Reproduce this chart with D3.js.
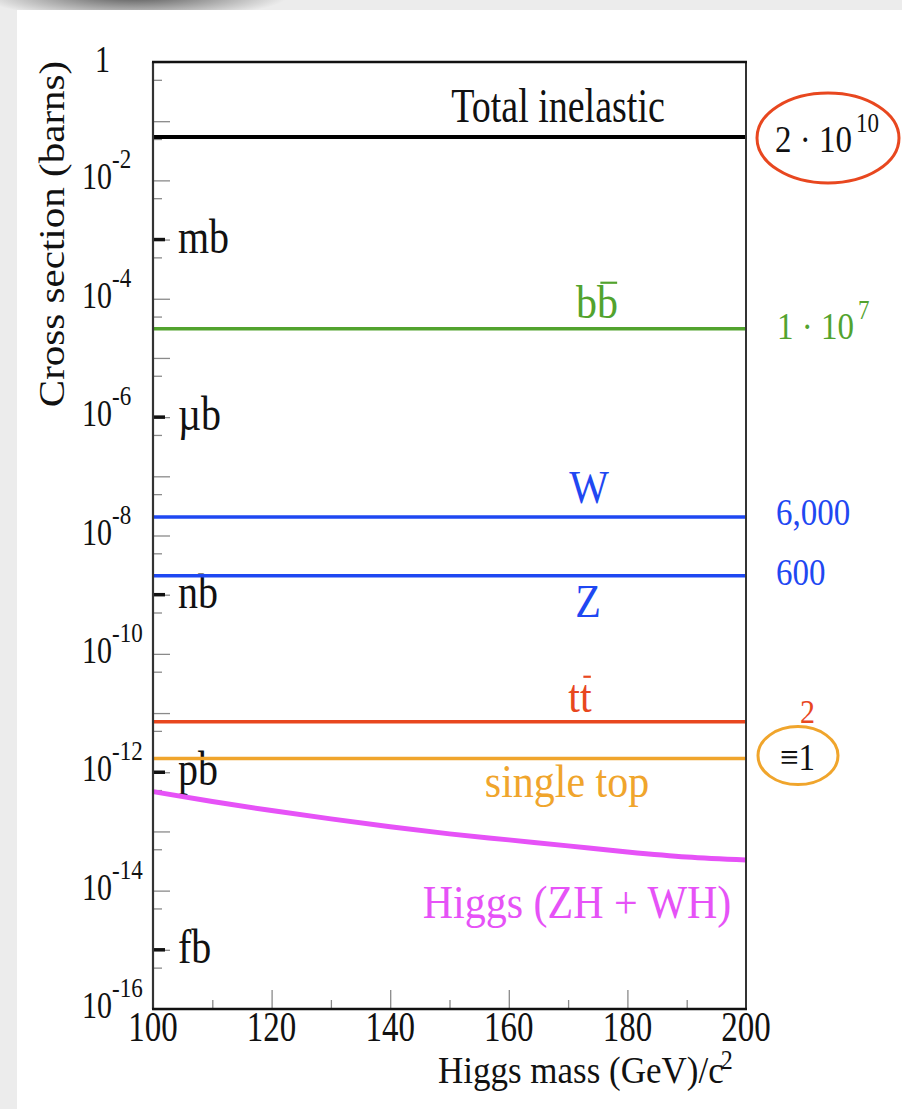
<!DOCTYPE html>
<meta charset="utf-8">
<style>
body { margin: 0; background: #ececec; }
text { font-family: "Liberation Serif", "Times New Roman", Tinos, "DejaVu Serif", serif; }
</style>
<svg id="thevis" width="902" height="1109"></svg>
<script src="https://d3js.org/d3.v7.min.js"></script>
<script>

// values
var processes = ["Total inelastic", "bb", "W", "Z", "tt", "single top"];
var sigma = [5.4e-2, 3.1e-5, 2.06e-8, 2.08e-9, 7.1e-12, 1.7e-12];
var procColors = ["#000000", "#52a32e", "#1f48f2", "#1f48f2", "#e8471f", "#f0a52c"];
var rates = ["2 · 10", "1 · 10", "6,000", "600", "2", "≡1"];
var rateExp = ["10", "7", "", "", "", ""];
var rateColors = ["#111111", "#52a32e", "#1f48f2", "#1f48f2", "#e8471f", "#111111"];

var higgsMass = [100, 110, 120, 130, 140, 150, 160, 170, 180, 190, 200];
var higgsSigma = [4.7e-13, 3.2e-13, 2.25e-13, 1.63e-13, 1.2e-13, 9.1e-14,
                  7.2e-14, 5.7e-14, 4.5e-14, 3.7e-14, 3.3e-14];
var higgsLabel = "Higgs (ZH + WH)";
var higgsColor = "#e652f7";

var yLabelExp = [0, -2, -4, -6, -8, -10, -12, -14, -16];
var units = ["mb", "\u00b5b", "nb", "pb", "fb"];
var unitExp = [-3, -6, -9, -12, -15];
var xMajor = [100, 120, 140, 160, 180, 200];
var xMinor = [110, 130, 150, 170, 190];

var serif = "'Liberation Serif', 'Times New Roman', Tinos, 'DejaVu Serif', serif";

// layout
var svg = d3.select("svg");
var frame = {left: 153, right: 746, top: 62, bottom: 1009};

var x = d3.scaleLinear().domain([100, 200]).range([frame.left, frame.right]);
var y = d3.scaleLog().domain([1e-16, 1]).range([frame.bottom, frame.top]);

// text helper: the picture's type is stretched a bit vertically
function label(parent, px, py, str, size, stretch, anchor, fill) {
    var g = parent.append("g")
        .attr("transform", "translate(" + px + "," + py + ") scale(1," + stretch + ")");
    var t = g.append("text")
        .attr("font-family", serif)
        .attr("font-size", size)
        .attr("text-anchor", anchor || "start")
        .attr("fill", fill || "#111")
        .text(str);
    return {g: g, t: t};
}
function sup(t, str, size, dy, dx) {
    t.append("tspan").attr("font-size", size).attr("dy", dy).attr("dx", dx || 0).text(str);
}
// bar over the second letter (bb, tt)
function overbar(lab, size, color) {
    var node = lab.t.node();
    var x0 = node.getStartPositionOfChar(1).x, x1 = node.getEndPositionOfChar(1).x;
    lab.g.append("line")
        .attr("x1", x0 + size * 0.08).attr("x2", x1 - size * 0.02)
        .attr("y1", -size * 0.76).attr("y2", -size * 0.76)
        .attr("stroke", color).attr("stroke-width", 2);
}

// page background: grey with a white sheet and a soft shadow at the top
var defs = svg.append("defs");
var grad = defs.append("radialGradient").attr("id", "shade");
grad.append("stop").attr("offset", "0%").attr("stop-color", "#3a3a3a").attr("stop-opacity", 0.9);
grad.append("stop").attr("offset", "100%").attr("stop-color", "#3a3a3a").attr("stop-opacity", 0);

svg.append("rect").attr("width", 902).attr("height", 1109).attr("fill", "#ececec");
svg.append("ellipse").attr("cx", 135).attr("cy", -6).attr("rx", 155).attr("ry", 26)
    .attr("fill", "url(#shade)");
svg.append("rect").attr("x", 17).attr("y", 10).attr("width", 885).attr("height", 1099)
    .attr("fill", "#ffffff");

var plot = svg.append("g");

// y ticks (decades long, 5x ticks short), pointing inward
var decades = d3.range(0, -17, -1).map(function (e) { return Math.pow(10, e); });
var halves = d3.range(-1, -17, -1).map(function (e) { return 5 * Math.pow(10, e); });

plot.append("g").attr("transform", "translate(" + frame.left + ",0)")
    .call(d3.axisRight(y).tickValues(decades).tickSize(17).tickFormat(""))
    .call(function (g) { g.select(".domain").remove(); })
    .selectAll("line").attr("stroke", "#8a8a8a").attr("stroke-width", 1.3);
plot.append("g").attr("transform", "translate(" + frame.left + ",0)")
    .call(d3.axisRight(y).tickValues(halves).tickSize(9).tickFormat(""))
    .call(function (g) { g.select(".domain").remove(); })
    .selectAll("line").attr("stroke", "#8a8a8a").attr("stroke-width", 1.3);

// x ticks, pointing up
plot.append("g").attr("transform", "translate(0," + frame.bottom + ")")
    .call(d3.axisBottom(x).tickValues(xMajor.slice(1, -1)).tickSize(-19).tickFormat(""))
    .call(function (g) { g.select(".domain").remove(); })
    .selectAll("line").attr("stroke", "#8a8a8a").attr("stroke-width", 1.3);
plot.append("g").attr("transform", "translate(0," + frame.bottom + ")")
    .call(d3.axisBottom(x).tickValues(xMinor).tickSize(-9).tickFormat(""))
    .call(function (g) { g.select(".domain").remove(); })
    .selectAll("line").attr("stroke", "#8a8a8a").attr("stroke-width", 1.3);

// unit marks on the left axis
plot.selectAll(".unitMark").data(unitExp).enter().append("line")
    .attr("x1", frame.left).attr("x2", frame.left + 12)
    .attr("y1", function (d) { return y(Math.pow(10, d)); })
    .attr("y2", function (d) { return y(Math.pow(10, d)); })
    .attr("stroke", "#111").attr("stroke-width", 3.5);

units.forEach(function (u, i) {
    label(plot, frame.left + 25, y(Math.pow(10, unitExp[i])) + 13, u, 40, 1.2);
});

// process lines
plot.selectAll(".proc").data(sigma).enter().append("line")
    .attr("x1", frame.left).attr("x2", frame.right)
    .attr("y1", function (d) { return y(d); })
    .attr("y2", function (d) { return y(d); })
    .attr("stroke", function (d, i) { return procColors[i]; })
    .attr("stroke-width", function (d, i) { return i === 0 ? 4 : 3.5; });

// Higgs curve
var line = d3.line()
    .x(function (d, i) { return x(higgsMass[i]); })
    .y(function (d) { return y(d); })
    .curve(d3.curveMonotoneX);
plot.append("path").datum(higgsSigma)
    .attr("d", line).attr("fill", "none")
    .attr("stroke", higgsColor).attr("stroke-width", 5);

// frame
plot.append("line").attr("x1", frame.left).attr("x2", frame.left)
    .attr("y1", frame.top).attr("y2", frame.bottom).attr("stroke", "#333").attr("stroke-width", 2.2);
plot.append("line").attr("x1", frame.right).attr("x2", frame.right)
    .attr("y1", frame.top).attr("y2", frame.bottom).attr("stroke", "#333").attr("stroke-width", 2);
plot.append("line").attr("x1", frame.left - 1).attr("x2", frame.right + 1)
    .attr("y1", frame.top).attr("y2", frame.top).attr("stroke", "#111").attr("stroke-width", 2.5);
plot.append("line").attr("x1", frame.left - 1).attr("x2", frame.right + 1)
    .attr("y1", frame.bottom).attr("y2", frame.bottom).attr("stroke", "#111").attr("stroke-width", 2.5);

// process labels inside the plot: [x centre, offset from line, size, stretch]
var procLabel = [[558, -15, 38, 1.27], [597, -11, 42, 1.1], [589, -14, 42, 1.1],
                 [588, 41, 42, 1.1], [580, -10, 42, 1.1], [567, 38, 42, 1.1]];
processes.forEach(function (p, i) {
    var L = procLabel[i];
    var lab = label(plot, L[0], y(sigma[i]) + L[1], p, L[2], L[3], "middle",
                    i === 0 ? "#111" : procColors[i]);
    if (p === "bb" || p === "tt") overbar(lab, L[2], procColors[i]);
});
label(plot, 577, 918, higgsLabel, 42, 1.08, "middle", higgsColor);

// rates relative to single top, right of the frame
var rateOffset = [15, 10, 8, 9, 1, 11];
var rateX = [775, 777, 776, 776, 800, 780];
rates.forEach(function (r, i) {
    var lab = label(plot, rateX[i], y(sigma[i]) + rateOffset[i], r, i === 4 ? 30 : 33, 1.15,
                    "start", rateColors[i]);
    if (rateExp[i]) sup(lab.t, rateExp[i], 23, -17, 4);
});
plot.append("ellipse").attr("cx", 828).attr("cy", y(sigma[0]) + 1).attr("rx", 71).attr("ry", 45)
    .attr("fill", "none").attr("stroke", "#e8471f").attr("stroke-width", 3);
plot.append("ellipse").attr("cx", 798).attr("cy", y(sigma[5]) - 3).attr("rx", 40).attr("ry", 29)
    .attr("fill", "none").attr("stroke", "#f0a52c").attr("stroke-width", 3);

// y tick labels
yLabelExp.forEach(function (e) {
    if (e === 0) {
        label(plot, 95, y(1) + 10, "1", 30, 1.23);
    } else {
        var lab = label(plot, 82, y(Math.pow(10, e)) + 9, "10", 30, 1.23);
        sup(lab.t, String(e), 23, -17, 0);
    }
});

// x tick labels
xMajor.forEach(function (m) {
    label(plot, x(m), 1041, String(m), 33, 1.26, "middle");
});

// axis titles
var xt = label(plot, 438, 1083, "Higgs mass (GeV)/c", 35, 1.1);
sup(xt.t, "2", 24, -13, -3);

svg.append("g")
    .attr("transform", "translate(64,234) rotate(-90) scale(1.14,1)")
    .append("text").attr("font-family", serif).attr("font-size", 36)
    .attr("text-anchor", "middle")
    .attr("fill", "#111").text("Cross section (barns)");

</script>
